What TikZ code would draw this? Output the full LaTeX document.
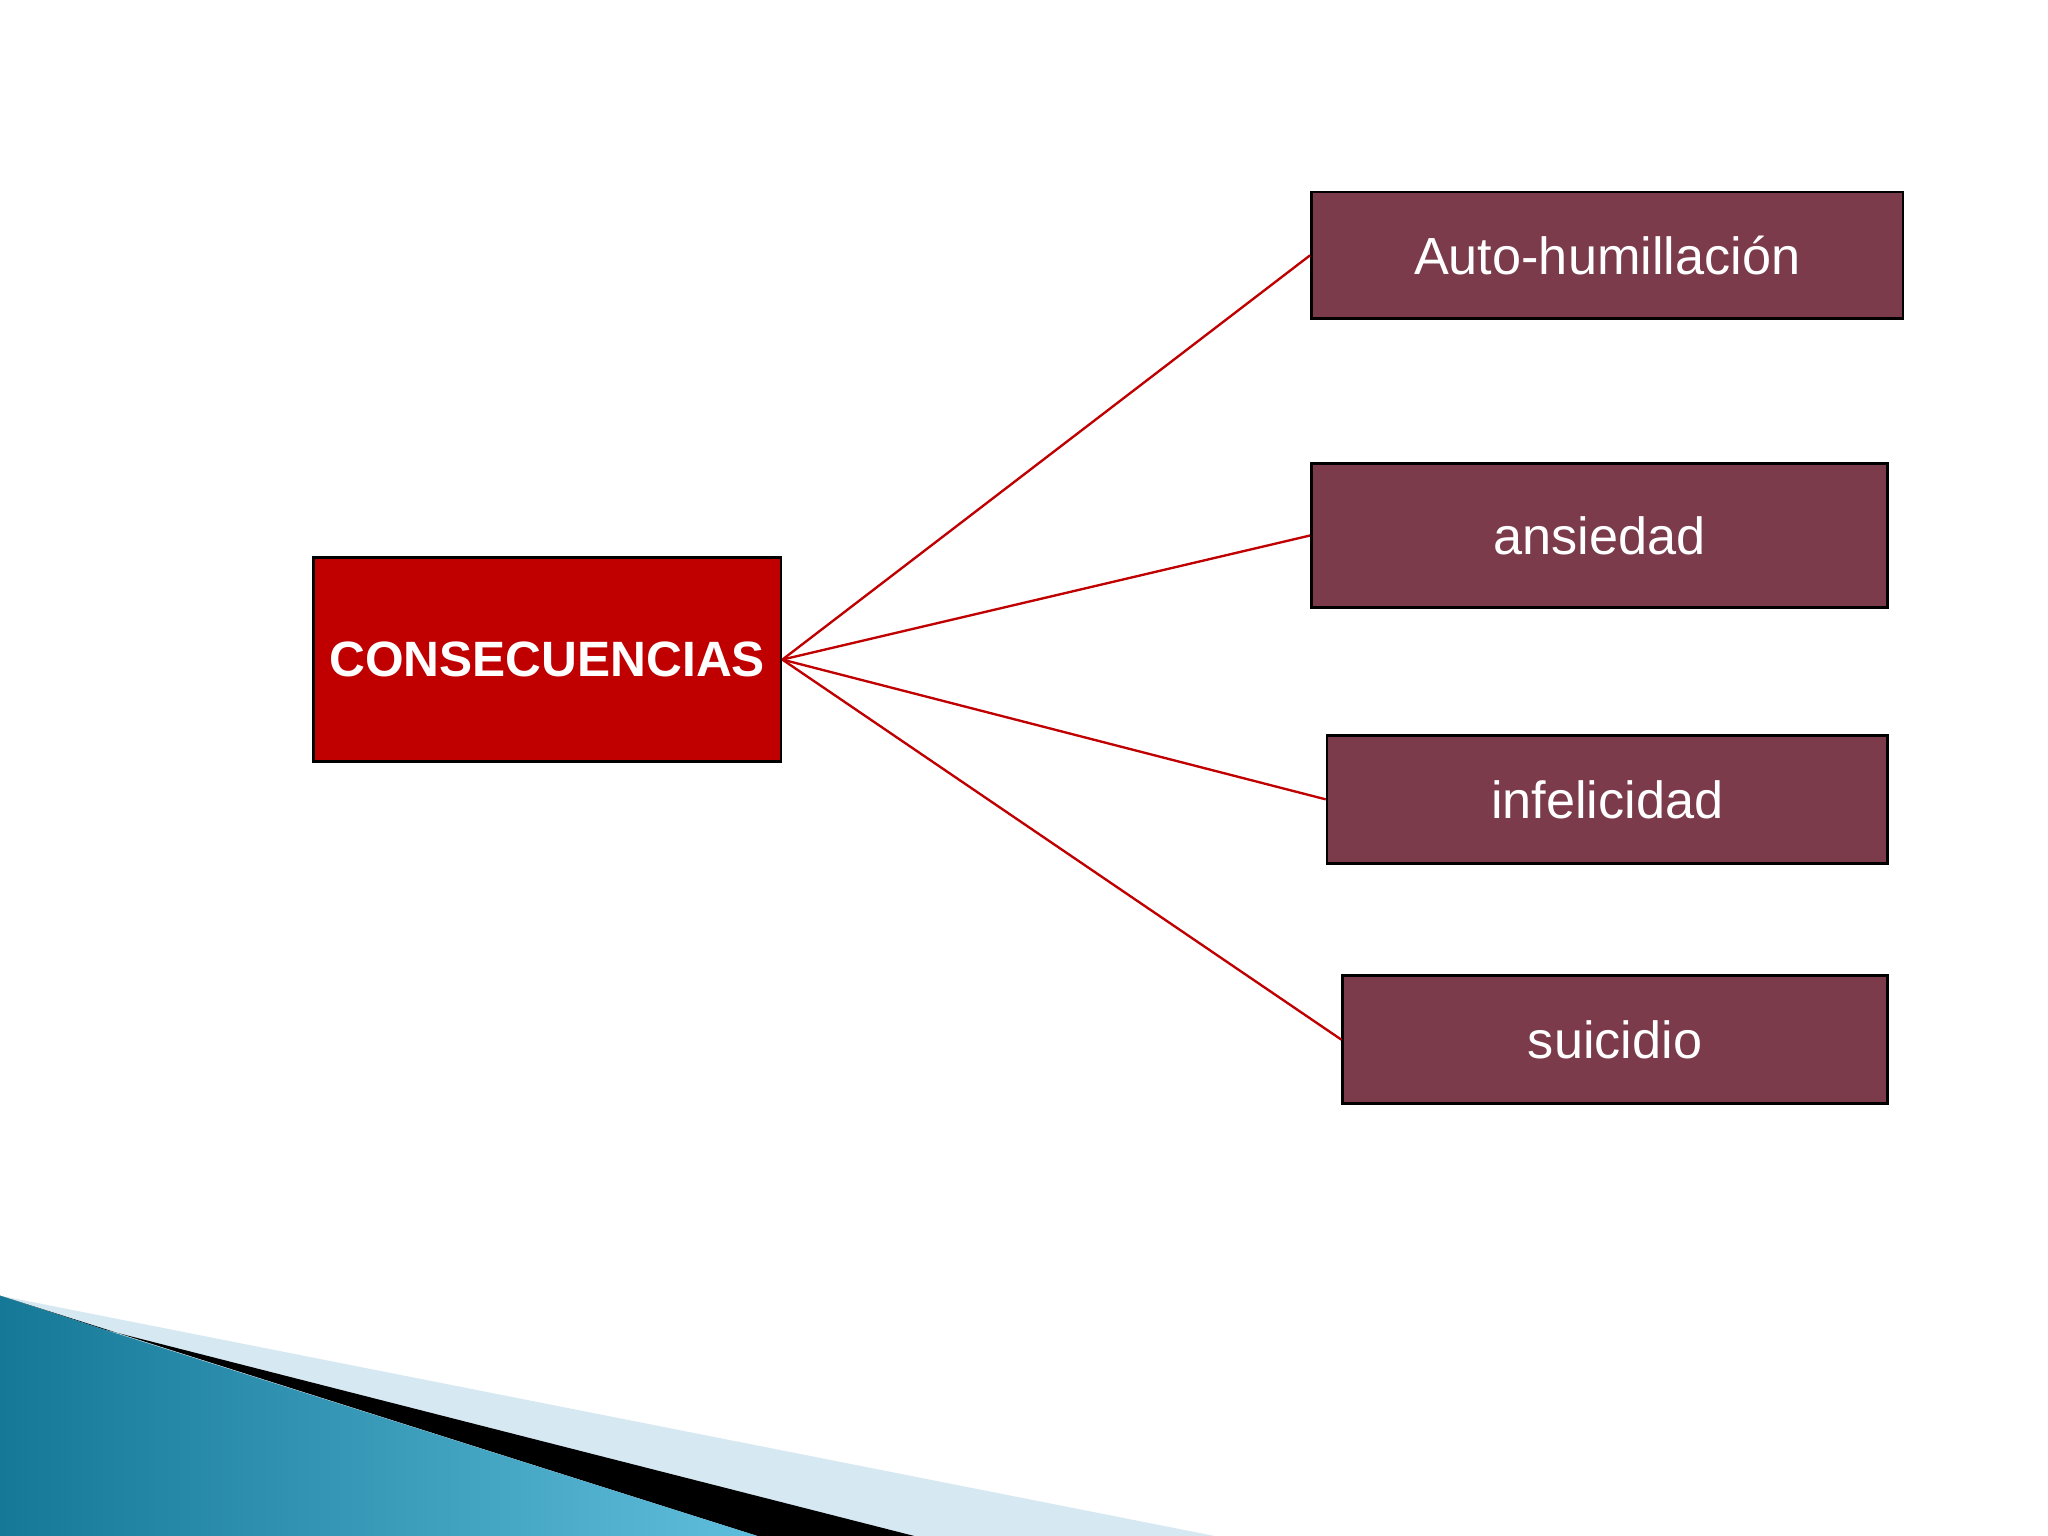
\documentclass[tikz,border=0pt]{standalone}
\usepackage{fontspec}
\setmainfont{Liberation Sans}
\begin{document}
\begin{tikzpicture}[x=0.5pt,y=-0.5pt,
  leaf/.style={draw=black,line width=1pt,fill=leafc,text=white,font=\fontsize{20}{24}\selectfont,inner sep=0pt},
  conn/.style={draw=linec,line width=0.9pt}]
\definecolor{leafc}{HTML}{7B3B4B}
\definecolor{mainc}{HTML}{C00000}
\definecolor{linec}{HTML}{C00000}
\useasboundingbox (0,0) rectangle (1568,1176);
\fill[white] (0,0) rectangle (1568,1176);
% bottom decoration
\fill[color={rgb,255:red,214;green,232;blue,242}] (0,992) -- (930,1176) -- (0,1176) -- cycle;
\fill[black] (0,992) -- (80,1018) -- (700,1176) -- (580,1176) -- cycle;
\shade[left color={rgb,255:red,20;green,120;blue,150}, right color={rgb,255:red,95;green,190;blue,220}] (0,992) -- (80,1018) -- (580,1176) -- (0,1176) -- cycle;
% nodes
\node[draw=black,line width=1pt,fill=mainc,text=white,font=\bfseries\fontsize{19}{23}\selectfont,minimum width=179pt,minimum height=78pt,inner sep=0pt] (m) at (419,505) {CONSECUENCIAS};
\node[leaf,minimum width=226.5pt,minimum height=48.5pt] (a) at (1230.5,195.5) {Auto-humillación};
\node[leaf,minimum width=220.5pt,minimum height=55pt] (b) at (1224.5,410) {ansiedad};
\node[leaf,minimum width=214.5pt,minimum height=49pt] (c) at (1230.5,612) {infelicidad};
\node[leaf,minimum width=208.5pt,minimum height=49pt] (d) at (1236.5,796) {suicidio};
\draw[conn] (m.east) -- (a.west);
\draw[conn] (m.east) -- (b.west);
\draw[conn] (m.east) -- (c.west);
\draw[conn] (m.east) -- (d.west);
\end{tikzpicture}
\end{document}
